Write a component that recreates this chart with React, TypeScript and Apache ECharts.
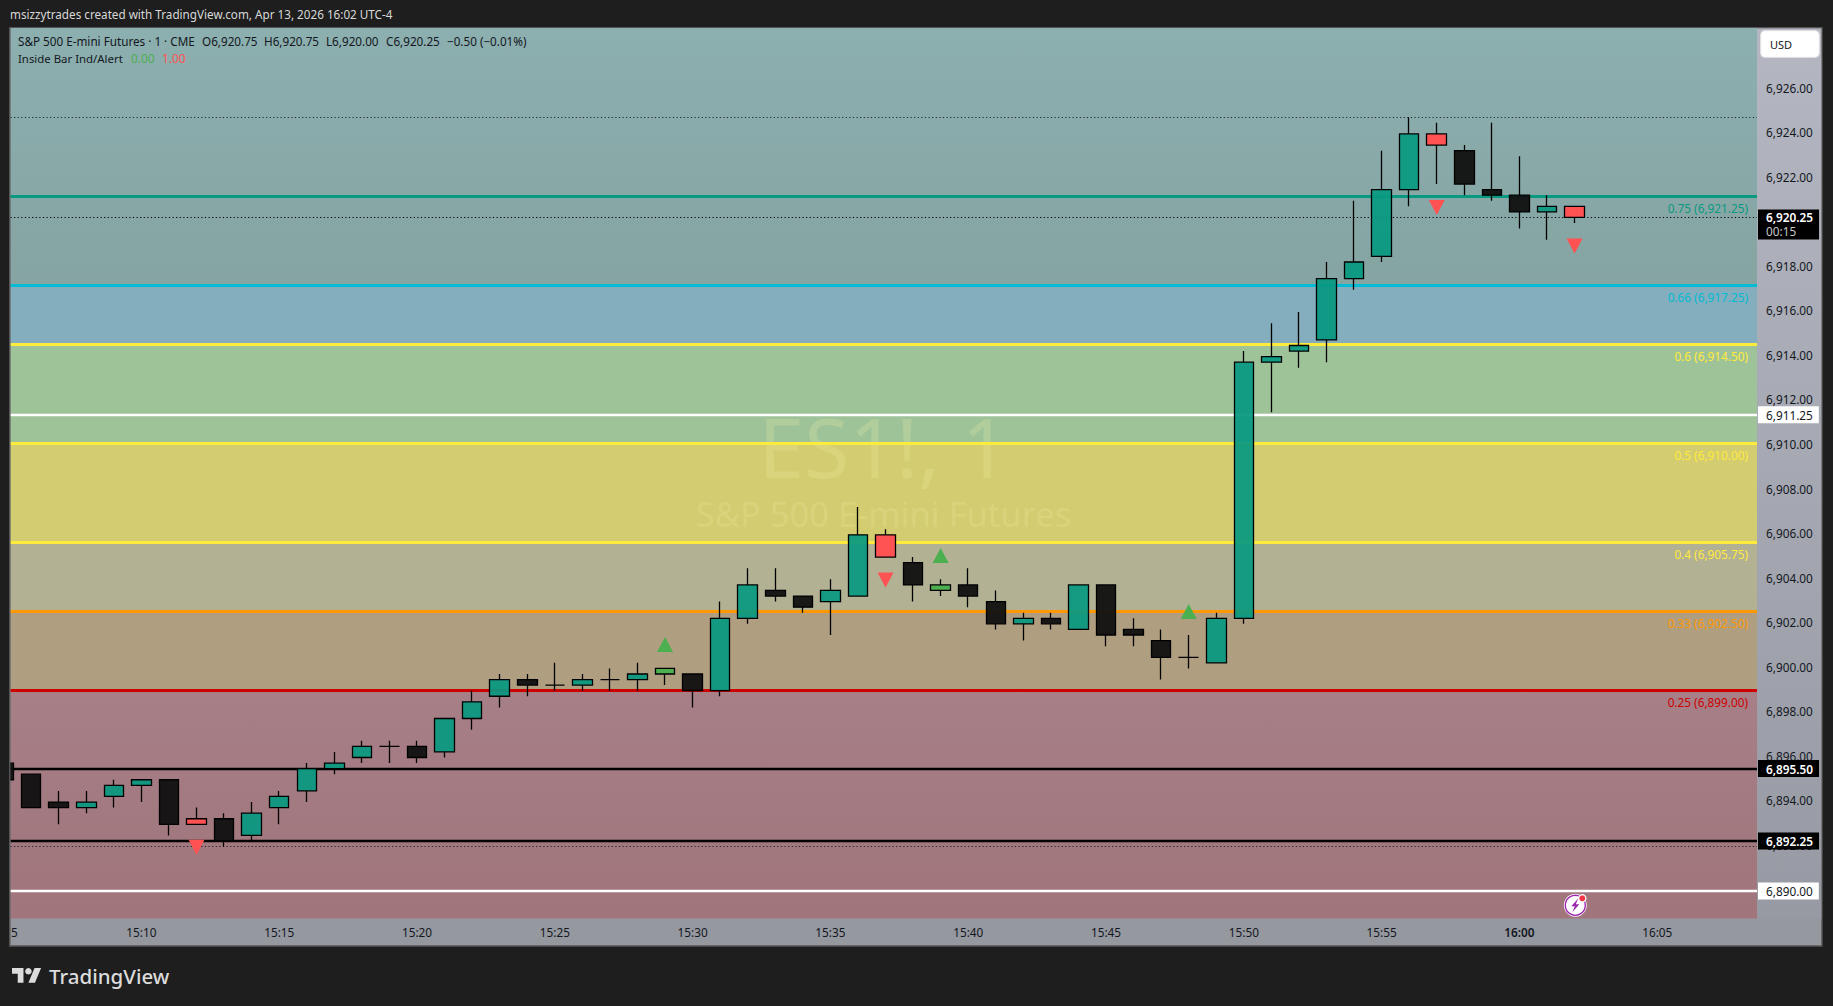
import React, { useEffect, useRef } from "react";
import * as echarts from "echarts";

const times = ["15:05","15:06","15:07","15:08","15:09","15:10","15:11","15:12","15:13","15:14","15:15","15:16","15:17","15:18","15:19","15:20","15:21","15:22","15:23","15:24","15:25","15:26","15:27","15:28","15:29","15:30","15:31","15:32","15:33","15:34","15:35","15:36","15:37","15:38","15:39","15:40","15:41","15:42","15:43","15:44","15:45","15:46","15:47","15:48","15:49","15:50","15:51","15:52","15:53","15:54","15:55","15:56","15:57","15:58","15:59","16:00","16:01","16:02"];
const opens = [6895.75,6895.25,6894,6893.75,6894.25,6894.75,6895,6893,6893.25,6892.5,6893.75,6894.5,6895.5,6896,6896.5,6896.5,6896.25,6897.75,6898.75,6899.5,6899.25,6899.25,6899.5,6899.5,6899.75,6899.75,6899,6902.25,6903.5,6903.25,6903,6903.25,6906,6904.75,6903.5,6903.75,6903,6902,6902.25,6901.75,6903.75,6901.75,6901.25,6900.5,6900.25,6902.25,6913.75,6914.25,6914.75,6917.5,6918.5,6921.5,6924,6923.25,6921.5,6921.25,6920.5,6920.75];
const highs = [6895.75,6895.25,6894.5,6894.5,6895,6895,6895,6893.75,6893.5,6894,6894.5,6895.75,6896.25,6896.75,6896.75,6896.75,6897.75,6899,6899.75,6899.75,6900.25,6899.75,6900,6900.25,6900,6899.75,6903,6904.5,6904.5,6903.25,6904,6907.25,6906.25,6905,6904,6904.5,6903.5,6902.5,6902.5,6903.75,6903.75,6902.25,6901.75,6901.5,6902.5,6914.25,6915.5,6916,6918.25,6921,6923.25,6924.75,6924.5,6923.5,6924.5,6923,6921.25,6920.75];
const lows = [6895,6893.75,6893,6893.5,6893.75,6894,6892.5,6893,6892,6892.25,6893,6894,6895.25,6895.75,6895.75,6895.75,6896,6897.25,6898.25,6898.75,6899,6899,6899,6899,6899.25,6898.25,6898.75,6902,6903,6902.5,6901.5,6903.25,6905,6903,6903.25,6902.75,6901.75,6901.25,6901.75,6901.75,6901,6901,6899.5,6900,6900.25,6902,6911.5,6913.5,6913.75,6917,6918.25,6920.75,6921.75,6921.25,6921,6919.75,6919.25,6920];
const closes = [6895,6893.75,6893.75,6894,6894.75,6895,6893,6893.25,6892.25,6893.5,6894.25,6895.5,6895.75,6896.5,6896.5,6896,6897.75,6898.5,6899.5,6899.25,6899.25,6899.5,6899.5,6899.75,6900,6899,6902.25,6903.75,6903.25,6902.75,6903.5,6906,6905,6903.75,6903.75,6903.25,6902,6902.25,6902,6903.75,6901.5,6901.5,6900.5,6900.5,6902.25,6913.75,6914,6914.5,6917.5,6918.25,6921.5,6924,6923.5,6921.75,6921.25,6920.5,6920.75,6920.25];
const insideBars = ["15:12","15:37","15:57","16:02"];
const breakoutBars = ["15:29","15:39"];

const upMarkTimes = ["15:29","15:39","15:48"];
const upMarkPrices = [6901.07,6905.07,6902.55];
const downMarkTimes = ["15:12","15:37","15:57","16:02"];
const downMarkPrices = [6891.97,6903.97,6920.7,6918.97];

const fibLevels = [6921.2,6917.2,6914.54,6910.1,6905.66,6902.55,6899];
const fibRatios = ["0.75","0.66","0.6","0.5","0.4","0.33","0.25"];
const fibPriceLabels = ["6,921.25","6,917.25","6,914.50","6,910.00","6,905.75","6,902.50","6,899.00"];
const fibColors = ["#089981","#00bcd4","#ffeb3b","#ffeb3b","#ffeb3b","#ff9800","#cc0000"];
const bandColors = ["#84adbd","#9fc398","#d3cc71","#b2b194","#b09e81"];
const darkLevels = [6895.5,6892.25];
const darkLabels = ["6,895.50","6,892.25"];
const lightLevels = [6911.39,6890];
const lightLabels = ["6,911.25","6,890.00"];
const dottedLevels = [6924.75,6892];
const lastPrice = 6920.25;
const countdown = "00:15";
const priceTicks = [6890,6892,6894,6896,6898,6900,6902,6904,6906,6908,6910,6912,6914,6916,6918,6922,6924,6926];
const timeTicks = ["15:10","15:15","15:20","15:25","15:30","15:35","15:40","15:45","15:50","15:55","16:00","16:05"];

const toMin = (t: string) => { const [h, m] = t.split(":").map(Number); return h * 60 + m; };
const fromMin = (v: number) => `${Math.floor(v / 60)}:${String(v % 60).padStart(2, "0")}`;
const money = (v: number) => v.toLocaleString("en-US", { minimumFractionDigits: 2, maximumFractionDigits: 2 });

const W = 1833, H = 1006;
const PL = 10.5, PR = 1757, PT = 28, PB = 918.5;
const xMin = 905.25, xMax = 968.62, yMin = 6888.77, yMax = 6928.757;

const TEAL = "rgba(8,153,129,0.93)", DARK = "rgba(16,16,16,0.95)", RED = "#ff5252", GREEN = "#4caf50";
const FONT = '"Noto Sans", sans-serif';
const INK = "#131722";
const FRAME = "#1e1e1e";

echarts.graphic.registerShape("tvmark", (echarts.graphic as any).extendPath("M14 22H7V11H0V4h14v18zM28 22h-8l7.5-18h8L28 22z", {}));
echarts.graphic.registerShape("bolt", (echarts.graphic as any).extendPath("M3 -7 L-4 1 L-0.5 1 L-3 7 L4 -1 L0.5 -1 Z", {}));

export default function App() {
  const ref = useRef<HTMLDivElement>(null);
  useEffect(() => {
    const chart = echarts.init(ref.current!, undefined, { renderer: "svg" });

    const candleData = times.map((t, i) => {
      const inside = insideBars.includes(t);
      const brk = breakoutBars.includes(t);
      const fill = inside ? RED : brk ? GREEN : closes[i] > opens[i] ? TEAL : DARK;
      return {
        value: [toMin(t), opens[i], closes[i], lows[i], highs[i]],
        itemStyle: { color: fill, color0: fill, borderColor: "#000", borderColor0: "#000", borderColorDoji: "#000", borderWidth: 1.3 },
      };
    });

    const bandArea: any[] = [
      [{ yAxis: fibLevels[1], itemStyle: { color: { type: "linear", x: 0, y: 0, x2: 0, y2: 1, colorStops: [{ offset: 0, color: "#8cafaf" }, { offset: 1, color: "#85a4a2" }] } } }, { yAxis: yMax }],
      [{ yAxis: fibLevels[2], itemStyle: { color: bandColors[0] } }, { yAxis: fibLevels[1] }],
      [{ yAxis: fibLevels[3], itemStyle: { color: bandColors[1] } }, { yAxis: fibLevels[2] }],
      [{ yAxis: fibLevels[4], itemStyle: { color: bandColors[2] } }, { yAxis: fibLevels[3] }],
      [{ yAxis: fibLevels[5], itemStyle: { color: bandColors[3] } }, { yAxis: fibLevels[4] }],
      [{ yAxis: fibLevels[6], itemStyle: { color: bandColors[4] } }, { yAxis: fibLevels[5] }],
      [{ yAxis: yMin, itemStyle: { color: { type: "linear", x: 0, y: 0, x2: 0, y2: 1, colorStops: [{ offset: 0, color: "#a77f87" }, { offset: 1, color: "#a0757b" }] } } }, { yAxis: fibLevels[6] }],
    ];

    const tag = (text: string, bg: string, fg: string, bold: boolean) => ({
      show: true, position: "end", distance: 1, formatter: text,
      backgroundColor: bg, color: fg, fontFamily: FONT, fontSize: 11.8, fontWeight: bold ? 600 : 400, padding: [2, 6, 2, 8], lineHeight: 13,
    });

    const levelLines: any[] = [
      ...fibLevels.map((v, i) => ({
        yAxis: v,
        lineStyle: { color: fibColors[i], width: 3, type: "solid", opacity: 1 },
        label: { show: true, position: "insideEndBottom", distance: [9, 5.5], formatter: `${fibRatios[i]} (${fibPriceLabels[i]})`, color: fibColors[i], fontFamily: FONT, fontSize: 11.8 },
      })),
      ...lightLevels.map((v, i) => ({ yAxis: v, lineStyle: { color: "#ffffff", width: 2.3, type: "solid", opacity: 1 }, label: tag(lightLabels[i], "#ffffff", INK, false) })),
      ...darkLevels.map((v, i) => ({ yAxis: v, lineStyle: { color: "#000000", width: 2.3, type: "solid", opacity: 1 }, label: tag(darkLabels[i], "#000000", "#ffffff", true) })),
      ...dottedLevels.map((v) => ({ yAxis: v, lineStyle: { color: "#131722", width: 1, type: [1.2, 2.4], opacity: 0.9 }, label: { show: false } })),
      {
        yAxis: lastPrice,
        lineStyle: { color: "#000000", width: 1, type: [1.2, 2.4], opacity: 1 },
        label: {
          show: true, position: "end", distance: 1, offset: [0, 7],
          formatter: `{a|${money(lastPrice)}}\n{b|${countdown}}`,
          backgroundColor: "#000000", padding: [1, 6, 1, 8],
          rich: {
            a: { color: "#ffffff", fontFamily: FONT, fontSize: 11.8, fontWeight: 600, lineHeight: 14 },
            b: { color: "#c8c8c8", fontFamily: FONT, fontSize: 11.8, lineHeight: 14 },
          },
        },
      },
    ];

    const txt = (text: string, x: number, y: number, fill: string, size: number, extra: any = {}) => ({
      type: "text", z: extra.z ?? 50, silent: true,
      style: { text, x, y, fill, font: `${extra.weight ?? 400} ${size}px ${FONT}`, textAlign: extra.align ?? "left", textVerticalAlign: "middle" },
    });

    const option: any = {
      animation: false,
      backgroundColor: FRAME,
      grid: { left: PL, top: PT, width: PR - PL, height: PB - PT, containLabel: false },
      xAxis: {
        type: "value", min: xMin, max: xMax,
        axisLine: { show: false },
        axisTick: { show: false, customValues: timeTicks.map(toMin) },
        splitLine: { show: true, lineStyle: { color: "rgba(255,255,255,0.035)", width: 1 } },
        axisLabel: {
          show: true, customValues: timeTicks.map(toMin), margin: 7, hideOverlap: false,
          fontFamily: FONT, fontSize: 11.8, color: INK,
          formatter: (v: number) => { const s = fromMin(v); return s === "16:00" ? `{b|${s}}` : s; },
          rich: { b: { fontFamily: FONT, fontSize: 11.8, fontWeight: 600, color: INK } },
        },
      },
      yAxis: {
        type: "value", position: "right", min: yMin, max: yMax,
        axisLine: { show: false }, axisTick: { show: false }, splitLine: { show: false },
        axisLabel: { show: true, customValues: priceTicks, margin: 9, hideOverlap: false, fontFamily: FONT, fontSize: 11.8, color: INK, verticalAlign: "bottom", lineHeight: 3.5, formatter: (v: number) => money(v) },
      },
      graphic: [
        { type: "rect", z: -5, silent: true, shape: { x: 9.5, y: 27.7, width: 1812.5, height: 918.3 }, style: { fill: "#95989f", stroke: "#555555", lineWidth: 1.4 } },
        {
          type: "rect", z: -4, silent: true, shape: { x: PR, y: 28.4, width: 1821.3 - PR, height: PB - 28.4 },
          style: { fill: { type: "linear", x: 0, y: 0, x2: 0, y2: 1, colorStops: [{ offset: 0, color: "#b4b7c1" }, { offset: 1, color: "#979aa3" }] } },
        },
        { type: "rect", z: 40, silent: true, shape: { x: 0, y: 27, width: 9, height: 919 }, style: { fill: FRAME } },
        { type: "rect", z: 41, silent: true, shape: { x: 9, y: 27.7, width: 1.4, height: 918 }, style: { fill: "#555555" } },
        txt("ES1!, 1", 883.5, 446, "rgba(250,245,170,0.2)", 82, { align: "center", z: 0.5 }),
        txt("S&P 500 E-mini Futures", 883.5, 513, "rgba(250,245,170,0.2)", 34.5, { align: "center", z: 0.5 }),
        txt("msizzytrades created with TradingView.com, Apr 13, 2026 16:02 UTC-4", 10, 13.5, "#d8d8d8", 11.7),
        txt("S&P 500 E-mini Futures · 1 · CME", 18, 41, INK, 11.7),
        txt("O6,920.75", 202, 41, INK, 11.7),
        txt("H6,920.75", 264, 41, INK, 11.7),
        txt("L6,920.00", 326, 41, INK, 11.7),
        txt("C6,920.25", 386, 41, INK, 11.7),
        txt("−0.50 (−0.01%)", 447, 41, INK, 11.7),
        txt("Inside Bar Ind/Alert", 18, 58.4, INK, 11.4),
        txt("0.00", 131, 58.4, GREEN, 11.8),
        txt("1.00", 162, 58.4, RED, 11.8),
        txt("5", 11, 931.7, INK, 11.8),
        { type: "rect", z: 50, silent: true, shape: { x: 1760.7, y: 30.7, width: 58.6, height: 26.6, r: 4 }, style: { fill: "#ffffff", stroke: "#e4e4e8", lineWidth: 1 } },
        txt("USD", 1770, 44.6, INK, 11),
        { type: "circle", z: 60, silent: true, shape: { cx: 1575.3, cy: 905.3, r: 11.5 }, style: { fill: "#ffffff" } },
        { type: "circle", z: 61, silent: true, shape: { cx: 1575.3, cy: 905.3, r: 10 }, style: { fill: "#ffffff", stroke: "#9c27b0", lineWidth: 1.4 } },
        { type: "bolt", z: 62, silent: true, x: 1575.3, y: 905.3, style: { fill: "#9c27b0" } },
        { type: "circle", z: 63, silent: true, shape: { cx: 1582.3, cy: 898.3, r: 3.6 }, style: { fill: "#f23645", stroke: "#ffffff", lineWidth: 1.2 } },
        { type: "tvmark", z: 50, silent: true, x: 12, y: 964.7, scaleX: 0.82, scaleY: 0.82, style: { fill: "#dcdcdc" } },
        { type: "circle", z: 50, silent: true, shape: { cx: 12 + 20 * 0.82, cy: 964.7 + 8 * 0.82, r: 4 * 0.82 }, style: { fill: "#dcdcdc" } },
        txt("TradingView", 49, 976, "#dcdcdc", 20.5, { weight: 500 }),
      ],
      series: [
        {
          type: "candlestick", z: 2, barWidth: 20, clip: true, data: candleData,
          markArea: { silent: true, z: 0, data: bandArea },
          markLine: { silent: true, z: 1, symbol: ["none", "none"], precision: 2, data: levelLines },
        },
        {
          type: "scatter", z: 3, symbol: "triangle", symbolSize: [16, 15],
          itemStyle: { color: GREEN, opacity: 1 },
          data: upMarkTimes.map((t, i) => [toMin(t), upMarkPrices[i]]),
        },
        {
          type: "scatter", z: 3, symbol: "triangle", symbolRotate: 180, symbolSize: [16, 15],
          itemStyle: { color: RED, opacity: 1 },
          data: downMarkTimes.map((t, i) => [toMin(t), downMarkPrices[i]]),
        },
      ],
    };
    chart.setOption(option);
    return () => chart.dispose();
  }, []);
  return <div ref={ref} style={{ position: "fixed", left: 0, top: 0, width: W, height: H }} />;
}
